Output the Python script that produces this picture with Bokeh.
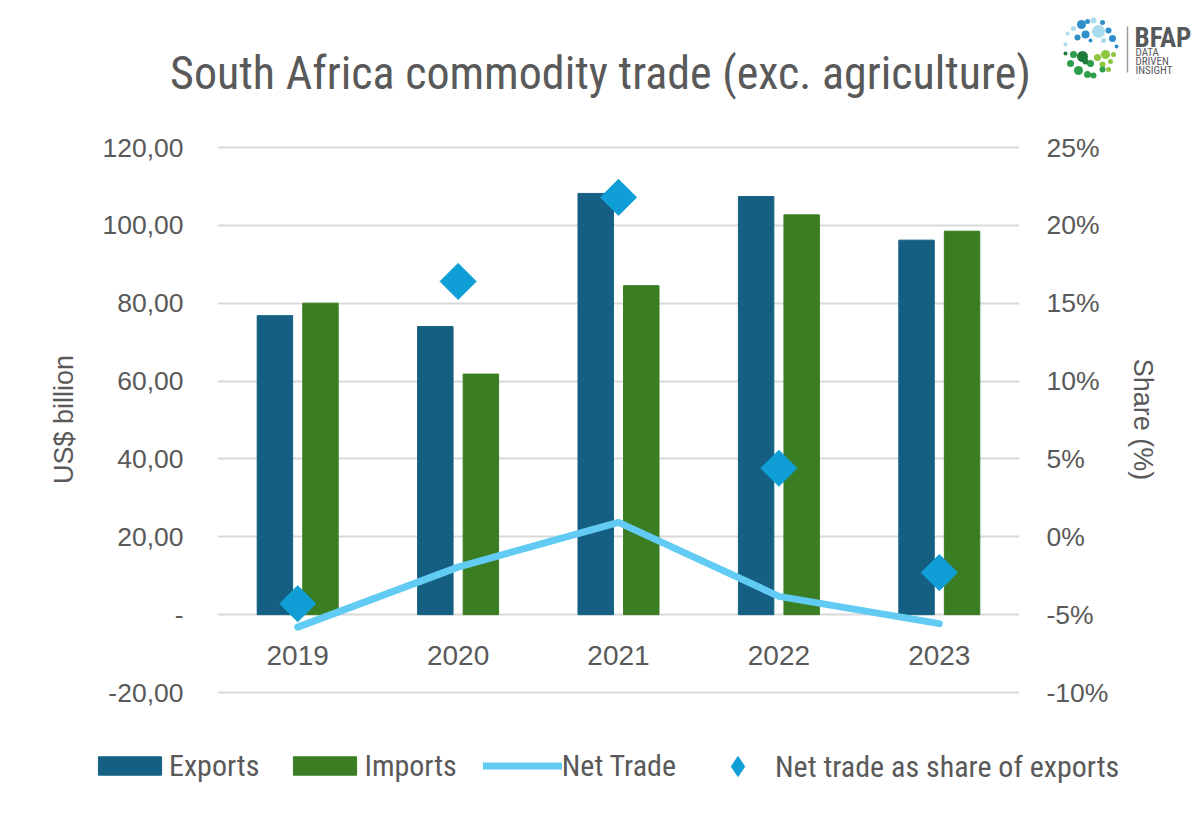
from math import pi
from bokeh.plotting import figure
from bokeh.layouts import column
from bokeh.models import (FactorRange, Range1d, LinearAxis, FixedTicker, Label,
                          Legend, LegendItem, ColumnDataSource)
from bokeh.transform import dodge
from bokeh.embed import file_html
from bokeh.resources import INLINE

# ---------------- data ----------------
years = ["2019", "2020", "2021", "2022", "2023"]
exports = [76.8, 74.0, 108.2, 107.4, 96.2]        # US$ billion
imports = [80.0, 61.8, 84.5, 102.7, 98.5]         # US$ billion
net_trade = [-3.2, 12.2, 23.7, 4.7, -2.3]         # US$ billion
share_of_exports = [-4.3, 16.4, 21.8, 4.4, -2.3]  # %

left_ticks = [-20, 0, 20, 40, 60, 80, 100, 120]
left_tick_labels = ["-20,00", "-", "20,00", "40,00", "60,00", "80,00", "100,00", "120,00"]
right_ticks = [-10, -5, 0, 5, 10, 15, 20, 25]
right_tick_labels = ["-10%", "-5%", "0%", "5%", "10%", "15%", "20%", "25%"]

title_text = "South Africa commodity trade (exc. agriculture)"

# ---------------- styling ----------------
TXT = "#595959"
SANS = "Liberation Sans, Arial, sans-serif"
NARROW = "Liberation Sans Narrow, Arial Narrow, Roboto Condensed, Roboto, sans-serif"
C_EXP = "#156082"
C_IMP = "#3B7D23"
C_NET = "#61CBF3"
C_SHARE = "#0F9ED5"

W = 1199
HEAD_H = 127          # header strip (title + logo)
TOP_B, BOT_B = 17, 36  # main figure borders
FRAME_H = 550
MAIN_H = TOP_B + FRAME_H + BOT_B
FOOT_H = 817 - HEAD_H - MAIN_H

PX = 545 / 140.0       # pixels per US$ billion on the left axis
Y_END = 120 + 3 / PX
Y_START = 120 + 3 / PX - FRAME_H / PX


def to_share(v):
    return (v - 20) / 4.0


def no_align(fig):
    if "frame_align" in fig.properties():
        fig.frame_align = False


# ---------------- header (title + logo) ----------------
head = figure(width=W, height=HEAD_H, x_range=Range1d(0, W), y_range=Range1d(HEAD_H, 0),
              output_backend="svg", toolbar_location=None, min_border=0,
              x_axis_location=None, y_axis_location=None)
no_align(head)
head.grid.visible = False
head.outline_line_color = None
head.title.visible = False

head.add_layout(Label(x=600, y=72, text=title_text, text_font=NARROW, text_font_size="46px",
                      text_color=TXT, text_align="center", text_baseline="middle"))

# BFAP logo (decoration)
logo_x = [1081, 1098, 1085, 1073, 1077, 1108, 1102, 1093, 1087, 1112, 1103, 1067, 1065, 1116, 1090,
          1082, 1073, 1105, 1097, 1113, 1070, 1078, 1090, 1102, 1110, 1087, 1093, 1102, 1108, 1065, 1085]
logo_y = [24, 31, 34, 28, 37, 30, 22, 20, 21, 38, 40, 33, 44, 46, 40,
          56, 54, 54, 57, 54, 63, 70, 63, 64, 61, 74, 75, 69, 69, 53, 61]
logo_d = [9, 13, 8, 5, 6, 6, 5, 6, 5, 7, 5, 4, 4, 4, 4,
          11, 7, 9, 7, 5, 7, 9, 7, 6, 5, 7, 6, 6, 5, 4, 6]
B1, B2, G1, G2, G3 = "#2f8fc9", "#a8dcec", "#1e7b3a", "#2e9e4a", "#8dc63f"
logo_c = [B1, B2, B1, B2, B1, B1, B1, B2, B1, B1, B2, B2, B2, B1, B1,
          G1, G2, G3, G3, G3, G2, G2, G2, G3, G3, G2, G2, G2, G3, G1, G1]
head.scatter(x=logo_x, y=logo_y, size=logo_d, fill_color=logo_c, line_color=None)
head.segment(x0=[1127], y0=[26], x1=[1127], y1=[72], line_color="#9a9a9a", line_width=1.5)
head.add_layout(Label(x=1134, y=37, text="BFAP", text_font=NARROW, text_font_size="27px",
                      text_font_style="bold", text_color="#58595b", text_baseline="middle"))
for t, yy in (("DATA", 52), ("DRIVEN", 61), ("INSIGHT", 70)):
    head.add_layout(Label(x=1135, y=yy, text=t, text_font=NARROW, text_font_size="11px",
                          text_color="#58595b", text_baseline="middle"))

# ---------------- main chart ----------------
p = figure(width=W, height=MAIN_H, x_range=FactorRange(*years),
           y_range=Range1d(Y_START, Y_END),
           output_backend="svg", toolbar_location=None,
           min_border_left=217, min_border_right=180, min_border_top=TOP_B,
           min_border_bottom=BOT_B)
no_align(p)
p.title.visible = False
p.outline_line_color = None

src = ColumnDataSource(dict(year=years, exports=exports, imports=imports,
                            net=net_trade, share=share_of_exports))

# grid
p.xgrid.visible = False
p.ygrid.ticker = FixedTicker(ticks=left_ticks)
p.ygrid.grid_line_color = "#d9d9d9"
p.ygrid.grid_line_width = 2

# left axis
ly = p.yaxis[0]
ly.ticker = FixedTicker(ticks=left_ticks)
ly.major_label_overrides = dict(zip(left_ticks, left_tick_labels))
ly.axis_line_color = None
ly.major_tick_line_color = None
ly.minor_tick_line_color = None
ly.major_tick_out = 0
ly.major_label_standoff = 34
ly.major_label_text_font = SANS
ly.major_label_text_font_size = "26.5px"
ly.major_label_text_color = TXT
ly.axis_label = "US$ billion"
ly.axis_label_text_font = SANS
ly.axis_label_text_font_size = "27px"
ly.axis_label_text_font_style = "normal"
ly.axis_label_text_color = TXT
ly.axis_label_standoff = 20

# right axis
p.extra_y_ranges = {"share": Range1d(to_share(Y_START), to_share(Y_END))}
ry = LinearAxis(y_range_name="share", ticker=FixedTicker(ticks=right_ticks),
                major_label_overrides=dict(zip(right_ticks, right_tick_labels)))
ry.axis_line_color = None
ry.major_tick_line_color = None
ry.minor_tick_line_color = None
ry.major_tick_out = 0
ry.major_label_standoff = 27
ry.major_label_text_font = SANS
ry.major_label_text_font_size = "26.5px"
ry.major_label_text_color = TXT
ry.axis_label = "Share (%)"
ry.axis_label_text_font = SANS
ry.axis_label_text_font_size = "27px"
ry.axis_label_text_font_style = "normal"
ry.axis_label_text_color = TXT
ry.axis_label_standoff = 17
p.add_layout(ry, "right")

# category axis drawn inside the plot just under the zero line
xa = p.xaxis[0]
xa.fixed_location = -8.1
xa.axis_line_color = None
xa.major_tick_line_color = None
xa.minor_tick_line_color = None
xa.major_tick_out = 0
xa.major_tick_in = 0
xa.major_label_standoff = 0
xa.major_label_text_font = SANS
xa.major_label_text_font_size = "28px"
xa.major_label_text_color = TXT

# glyphs
p.vbar(x=dodge("year", -0.142, range=p.x_range), top="exports", width=0.221,
       source=src, fill_color=C_EXP, line_color=C_EXP)
p.vbar(x=dodge("year", 0.142, range=p.x_range), top="imports", width=0.221,
       source=src, fill_color=C_IMP, line_color=C_IMP)
p.line(x="year", y="net", source=src, line_color=C_NET, line_width=7,
       line_cap="round", line_join="round")
p.scatter(x="year", y="share", source=src, y_range_name="share", marker="square",
          angle=pi / 4, size=25.5, fill_color=C_SHARE, line_color=C_SHARE)

# ---------------- footer (legend) ----------------
# legend keys reuse the same series; the footer's ranges keep these proxies out of view
foot = figure(width=W, height=FOOT_H, x_range=Range1d(-2000, -1999), y_range=Range1d(-2000, -1999),
              output_backend="svg", toolbar_location=None, min_border=0,
              x_axis_location=None, y_axis_location=None)
no_align(foot)
foot.grid.visible = False
foot.outline_line_color = None
foot.title.visible = False

k_exp = foot.vbar(x="exports", top="exports", width=1, source=src,
                  fill_color=C_EXP, line_color=C_EXP)
k_imp = foot.vbar(x="imports", top="imports", width=1, source=src,
                  fill_color=C_IMP, line_color=C_IMP)
k_net = foot.line(x="exports", y="net", source=src, line_color=C_NET, line_width=7,
                  line_cap="round")
k_sh = foot.scatter(x="exports", y="share", source=src, marker="diamond",
                    fill_color=C_SHARE, line_color=C_SHARE)

common = dict(orientation="horizontal", padding=0, margin=0,
              border_line_color=None, background_fill_alpha=0, label_text_font=NARROW,
              label_text_font_size="30px", label_text_color=TXT)
leg_a = Legend(items=[LegendItem(label="Exports", renderers=[k_exp]),
                      LegendItem(label="Imports", renderers=[k_imp]),
                      LegendItem(label="Net Trade", renderers=[k_net])],
               location=(90, 34), glyph_width=79, glyph_height=23, label_standoff=0,
               spacing=26, **common)
leg_b = Legend(items=[LegendItem(label="Net trade as share of exports", renderers=[k_sh])],
               location=(706, 26), glyph_width=63, glyph_height=50, label_standoff=6,
               spacing=0, **common)
foot.add_layout(leg_a, "center")
foot.add_layout(leg_b, "center")

page = column(head, p, foot, spacing=0)
open("out.html", "w").write(file_html(page, INLINE))
